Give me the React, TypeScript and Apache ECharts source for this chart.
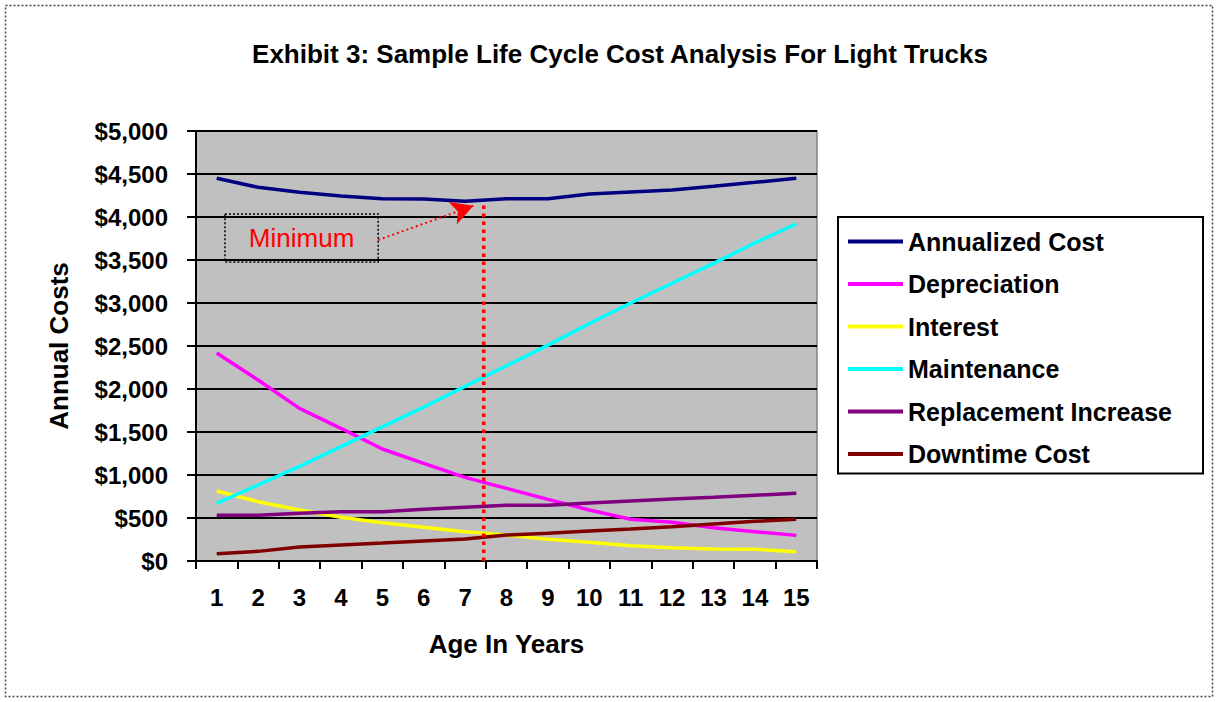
import React, { useEffect, useRef } from "react";
import * as echarts from "echarts";

const years = ["1", "2", "3", "4", "5", "6", "7", "8", "9", "10", "11", "12", "13", "14", "15"];
const annualized = [4450, 4345, 4287, 4244, 4213, 4209, 4183, 4213, 4213, 4267, 4291, 4314, 4357, 4403, 4450];
const depreciation = [2419, 2105, 1775, 1543, 1302, 1136, 973, 845, 717, 593, 485, 450, 387, 341, 298];
const interest = [814, 690, 593, 508, 446, 392, 341, 302, 252, 217, 178, 155, 140, 136, 108];
const maintenance = [671, 884, 1100, 1330, 1560, 1790, 2030, 2270, 2510, 2760, 3000, 3230, 3460, 3700, 3920];
const replacement = [531, 531, 554, 574, 574, 601, 624, 647, 647, 674, 698, 721, 740, 764, 787];
const downtime = [85, 112, 163, 186, 209, 233, 256, 302, 322, 349, 372, 399, 430, 461, 485];
const yTicks = [0, 500, 1000, 1500, 2000, 2500, 3000, 3500, 4000, 4500, 5000];

const seriesNames = ["Annualized Cost", "Depreciation", "Interest", "Maintenance", "Replacement Increase", "Downtime Cost"];
const seriesData = [annualized, depreciation, interest, maintenance, replacement, downtime];
const seriesColors = ["#000080", "#FF00FF", "#FFFF00", "#00FFFF", "#800080", "#800000"];

// annotation (data coordinates on hidden value x axis)
const minimumLine = [[7.45, 0], [7.45, 4165]];
const boxCorners = [[1.2, 4035], [4.9, 3477]];
const arrowFrom = [4.9, 3733];
const arrowTo = [7.2, 4130];

const FONT = "'Liberation Sans', Arial, sans-serif";

export default function App() {
  const ref = useRef<HTMLDivElement>(null);
  useEffect(() => {
    document.body.style.margin = "0";
    const chart = echarts.init(ref.current!, null, { renderer: "svg" });
    const lines = seriesNames.map((name, i) => ({
      name,
      type: "line",
      data: seriesData[i],
      showSymbol: false,
      symbol: "none",
      lineStyle: { color: seriesColors[i], width: 3.5 },
      itemStyle: { color: seriesColors[i] },
      z: 3,
    }));
    chart.setOption({
      animation: false,
      textStyle: { fontFamily: FONT },
      title: {
        text: "Exhibit 3: Sample Life Cycle Cost Analysis For Light Trucks",
        left: 615,
        textAlign: "center",
        top: 36,
        textStyle: { fontSize: 26, fontWeight: "bold", color: "#000", fontFamily: FONT },
      },
      graphic: [
        {
          type: "rect",
          shape: { x: 5.5, y: 5.5, width: 1207, height: 691 },
          style: { fill: "none", stroke: "#444", lineWidth: 1.5, lineDash: [2, 2] },
          silent: true,
        },
      ],
      legend: {
        data: seriesNames,
        orient: "vertical",
        left: 838,
        top: 217,
        icon: "rect",
        itemWidth: 55,
        itemHeight: 4,
        itemGap: 17.5,
        padding: [12, 31, 7, 10],
        backgroundColor: "#fff",
        borderColor: "#000",
        borderWidth: 2,
        textStyle: { fontSize: 25, fontWeight: "bold", color: "#000", fontFamily: FONT, lineHeight: 23 },
      },
      grid: {
        left: 196,
        right: 402,
        top: 131,
        bottom: 141,
        show: true,
        backgroundColor: "#C0C0C0",
        borderColor: "#808080",
        borderWidth: 1.5,
      },
      xAxis: [
        {
          type: "category",
          data: years,
          boundaryGap: true,
          name: "Age In Years",
          nameLocation: "middle",
          nameGap: 70,
          nameTextStyle: { fontSize: 26, fontWeight: "bold", color: "#000", fontFamily: FONT },
          axisLine: { lineStyle: { color: "#000", width: 2 } },
          axisTick: { show: true, alignWithLabel: false, length: 8, lineStyle: { color: "#000", width: 2 } },
          axisLabel: { fontSize: 24, fontWeight: "bold", color: "#000", margin: 24, fontFamily: FONT },
          splitLine: { show: false },
        },
        {
          type: "value",
          min: 0.5,
          max: 15.5,
          show: false,
          splitLine: { show: false },
        },
      ],
      yAxis: {
        type: "value",
        min: 0,
        max: 5000,
        interval: 500,
        name: "Annual Costs",
        nameLocation: "middle",
        nameGap: 124,
        nameTextStyle: { fontSize: 26, fontWeight: "bold", color: "#000", fontFamily: FONT },
        axisLine: { show: true, lineStyle: { color: "#000", width: 2 } },
        axisTick: { show: true, length: 9, lineStyle: { color: "#000", width: 2 } },
        axisLabel: {
          fontSize: 24,
          fontWeight: "bold",
          color: "#000",
          margin: 28,
          fontFamily: FONT,
          formatter: (v: number) => (yTicks.includes(v) ? "$" + v.toLocaleString("en-US") : ""),
        },
        splitLine: { show: true, lineStyle: { color: "#000", width: 2 } },
      },
      series: [
        ...lines,
        {
          name: "minimumMarker",
          type: "line",
          xAxisIndex: 1,
          data: minimumLine,
          showSymbol: false,
          symbol: "none",
          lineStyle: { color: "#FF0000", width: 3.5, type: [3.5, 4.5] },
          z: 4,
          markArea: {
            silent: true,
            itemStyle: { color: "rgba(0,0,0,0)", borderColor: "#000", borderWidth: 1.5, borderType: [2, 2] },
            label: {
              show: true,
              position: "inside",
              color: "#FF0000",
              fontSize: 26,
              fontFamily: FONT,
              fontWeight: "normal",
            },
            data: [[{ name: "Minimum", coord: boxCorners[0] }, { coord: boxCorners[1] }]],
          },
          markLine: {
            silent: true,
            symbol: ["none", "arrow"],
            symbolSize: [18, 22],
            label: { show: false },
            lineStyle: { color: "#FF0000", width: 2, type: [2, 3] },
            data: [[{ coord: arrowFrom }, { coord: arrowTo }]],
          },
        },
      ],
    });
    return () => chart.dispose();
  }, []);
  return <div ref={ref} style={{ width: 1219, height: 702 }} />;
}
